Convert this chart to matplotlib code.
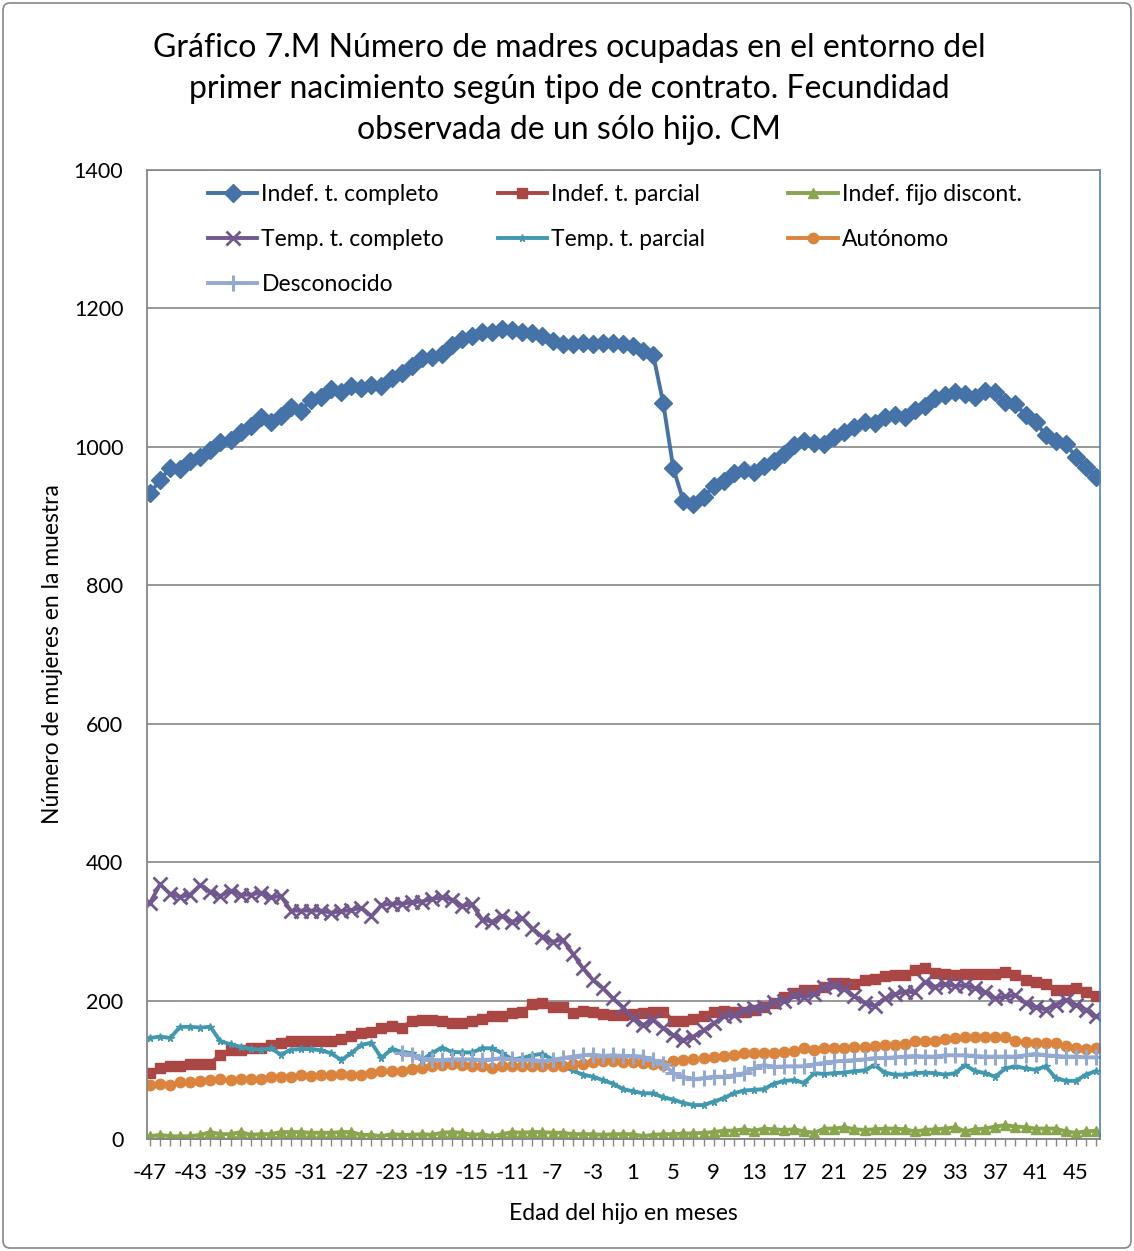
import numpy as np
import matplotlib
matplotlib.use("Agg")
import matplotlib.pyplot as plt
from matplotlib.patches import FancyBboxPatch

plt.rcParams['font.family'] = ['Lato', 'DejaVu Sans']

months = list(range(-47, 48))

indef_completo = [
    933, 952, 970, 968, 980, 985, 995, 1007, 1010, 1021,
    1030, 1043, 1036, 1045, 1057, 1052, 1068, 1072, 1083, 1079,
    1088, 1085, 1090, 1088, 1100, 1106, 1117, 1128, 1130, 1134,
    1147, 1156, 1160, 1166, 1166, 1171, 1169, 1166, 1164, 1160,
    1153, 1148, 1148, 1150, 1148, 1150, 1150, 1149, 1145, 1138,
    1133, 1063, 969, 922, 918, 927, 943, 951, 962, 967,
    963, 972, 980, 989, 1003, 1009, 1006, 1004, 1014, 1021,
    1029, 1036, 1034, 1043, 1046, 1043, 1053, 1059, 1070, 1075,
    1079, 1076, 1072, 1081, 1079, 1065, 1062, 1046, 1036, 1017,
    1008, 1004, 986, 971, 957,
]

indef_parcial = [
    95, 102, 106, 106, 109, 108, 109, 122, 128, 129, 132, 132, 136, 138, 141, 142, 141,
    141, 142, 144, 149, 153, 154, 161, 163, 161, 170, 172, 172, 170, 167, 168, 170,
    174, 178, 177, 182, 184, 195, 196, 191, 190, 182, 185, 183, 180, 179,
    179, 180, 182, 184, 184, 171, 170, 174, 177, 183, 185, 183, 184, 186, 190, 196, 205, 211,
    215, 215, 220, 225, 225, 224, 229, 231, 235, 237, 237, 244, 247, 240, 238,
    237, 238, 239, 239, 239, 242, 237, 230, 227, 224, 215, 215, 218, 213, 206,
]

indef_fijo_discont = [
    4, 6, 4, 4, 4, 6, 10, 7, 7, 10, 6, 7, 7, 10, 10, 10, 9,
    9, 9, 10, 10, 6, 6, 4, 7, 6, 6, 7, 6, 9, 10, 9, 6,
    7, 4, 7, 10, 9, 10, 10, 9, 9, 7, 7, 7, 6, 7,
    7, 7, 4, 6, 7, 7, 8, 8, 9, 10, 12, 12, 14, 12, 15, 14, 13, 14,
    11, 9, 15, 15, 17, 14, 13, 14, 15, 15, 14, 11, 13, 14, 15,
    17, 11, 14, 15, 18, 20, 18, 17, 15, 15, 15, 11, 9, 11, 12,
]

temp_completo = [
    341, 368, 354, 350, 353, 367, 357, 351, 359, 353, 353, 356, 349, 351, 330, 330, 330,
    330, 327, 329, 331, 334, 322, 338, 340, 340, 342, 343, 347, 349, 346, 337, 339,
    317, 314, 322, 314, 319, 304, 292, 285, 288, 268, 247, 230, 218, 203,
    190, 174, 165, 172, 160, 150, 143, 148, 157, 167, 177, 179, 186, 189, 191, 198, 200, 208,
    205, 209, 219, 222, 216, 206, 197, 192, 203, 209, 213, 212, 227, 220, 224,
    221, 222, 218, 212, 203, 206, 208, 196, 191, 187, 194, 201, 194, 187, 177,
]

temp_parcial = [
    146, 148, 146, 162, 162, 161, 162, 141, 137, 133, 130, 129, 131, 122, 129, 130, 130,
    128, 124, 114, 124, 136, 139, 117, 130, 126, 124, 114, 124, 132, 126, 125, 125,
    131, 131, 124, 115, 117, 121, 123, 115, 105, 99, 93, 90, 85, 80,
    72, 69, 66, 66, 60, 57, 52, 49, 49, 54, 59, 66, 70, 71, 72, 80, 84, 85,
    81, 95, 94, 95, 96, 98, 99, 107, 96, 93, 93, 95, 96, 95, 93,
    95, 107, 98, 95, 90, 102, 105, 102, 100, 105, 88, 84, 84, 93, 98,
]

autonomo = [
    78, 80, 78, 82, 82, 84, 85, 86, 85, 86, 86, 87, 89, 89, 90, 92, 91,
    92, 93, 94, 93, 93, 96, 98, 98, 98, 101, 103, 105, 107, 108, 107, 105,
    105, 103, 105, 105, 105, 106, 106, 106, 106, 108, 109, 111, 112, 112,
    111, 111, 110, 108, 107, 112, 114, 115, 117, 119, 120, 121, 124, 124, 124, 124, 125, 127,
    131, 129, 132, 132, 131, 133, 133, 134, 136, 136, 137, 141, 141, 142, 145,
    146, 147, 148, 148, 147, 148, 141, 140, 138, 138, 138, 134, 131, 130, 131,
]

desconocido = [np.nan] * 25 + [
    124, 121, 117, 114, 114, 115, 115, 115,
    114, 115, 117, 115, 114, 114, 113, 114, 117, 119, 121, 122, 120, 121,
    120, 120, 119, 114, 109, 95, 90, 86, 88, 90, 90, 92, 95, 102, 107, 104, 105, 105,
    105, 108, 110, 112, 113, 114, 115, 117, 117, 118, 119, 120, 119, 119, 121,
    121, 121, 120, 119, 119, 119, 119, 121, 123, 121, 120, 119, 119, 118, 118,
]

series = [
    ("Indef. t. completo", indef_completo, "#4572A7", "D", 9.0, 1.0),
    ("Indef. t. parcial", indef_parcial, "#AA4643", "s", 7.5, 1.0),
    ("Indef. fijo discont.", indef_fijo_discont, "#89A54E", "^", 6.5, 1.0),
    ("Temp. t. completo", temp_completo, "#71588F", "x", 9.5, 2.0),
    ("Temp. t. parcial", temp_parcial, "#4198AF", "*", 5.5, 1.0),
    ("Autónomo", autonomo, "#DB843D", "o", 7.5, 1.0),
    ("Desconocido", desconocido, "#93A9CF", "+", 12.0, 2.2),
]

xtick_labels = list(range(-47, 48, 4))

fig = plt.figure(figsize=(11.34, 12.51), dpi=100)
ax = fig.add_axes([147 / 1134, 1 - 1139 / 1251, (1100 - 147) / 1134, (1139 - 170) / 1251])

handles = {}
for name, vals, color, marker, ms, mew in series:
    line, = ax.plot(months, vals, color=color, lw=2.8, marker=marker, markersize=ms,
                    markeredgewidth=mew, markerfacecolor=color, markeredgecolor=color,
                    label=name, solid_joinstyle='round')
    handles[name] = line

ax.set_ylim(0, 1400)
ax.set_xlim(-47.3, 47.4)
ax.set_yticks(range(0, 1401, 200))
ax.yaxis.grid(True, color="#868686", lw=1.2)
ax.set_axisbelow(True)
ax.set_xticks(months, minor=True)
ax.set_xticks(xtick_labels)
ax.set_xticklabels([str(v) for v in xtick_labels])
ax.tick_params(axis='x', which='both', direction='out', length=5, color="#868686", width=1)
ax.tick_params(axis='x', which='major', labelsize=16, pad=12)
ax.tick_params(axis='y', which='major', direction='out', length=0, labelsize=15.5, pad=17)

for side in ('left', 'bottom'):
    ax.spines[side].set_color("#868686")
    ax.spines[side].set_linewidth(1.3)
ax.spines['top'].set_color("#868686")
ax.spines['top'].set_linewidth(1.2)
ax.spines['right'].set_color("#4F81BD")
ax.spines['right'].set_linewidth(1.2)

ax.set_xlabel("Edad del hijo en meses", fontsize=16.5, labelpad=15)
ax.set_ylabel("Número de mujeres en la muestra", fontsize=16.5, labelpad=8)

# Legend laid out in three columns, filled row by row
legend_columns = [
    (0.064, ["Indef. t. completo", "Temp. t. completo", "Desconocido"]),
    (0.368, ["Indef. t. parcial", "Temp. t. parcial"]),
    (0.673, ["Indef. fijo discont.", "Autónomo"]),
]
for i, (x0, names) in enumerate(legend_columns):
    leg = ax.legend([handles[n] for n in names], names, loc='upper left',
                    bbox_to_anchor=(x0, 0.986), frameon=False, fontsize=16.5,
                    handlelength=2.15, handletextpad=0.18, labelspacing=1.06,
                    borderpad=0, borderaxespad=0)
    if i < len(legend_columns) - 1:
        ax.add_artist(leg)

fig.text(0.502, 1 - 89 / 1251, "Gráfico 7.M Número de madres ocupadas en el entorno del\n"
         "primer nacimiento según tipo de contrato. Fecundidad\n"
         "observada de un sólo hijo. CM",
         ha='center', va='center', fontsize=23, linespacing=1.45)

border = FancyBboxPatch((3 / 1134, 3 / 1251), 1 - 6 / 1134, 1 - 6 / 1251,
                        boxstyle="round,pad=0,rounding_size=0.006",
                        transform=fig.transFigure, fill=False,
                        edgecolor="#868686", lw=1.2)
fig.patches.append(border)

fig.savefig("out.png", dpi=100)
